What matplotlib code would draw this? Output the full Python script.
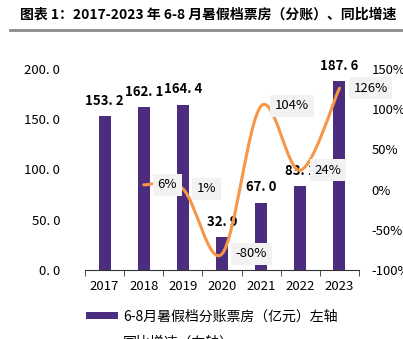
import numpy as np
import matplotlib
matplotlib.use("Agg")
import matplotlib.pyplot as plt
from matplotlib.path import Path
from matplotlib.patches import PathPatch, Patch
from matplotlib.lines import Line2D

plt.rcParams['font.family'] = ['Noto Sans CJK SC', 'DejaVu Sans']

# ---- data ----
years = ["2017", "2018", "2019", "2020", "2021", "2022", "2023"]
box_office = [153.2, 162.1, 164.4, 32.9, 67.0, 83.1, 187.6]   # 亿元
growth_years = ["2018", "2019", "2020", "2021", "2022", "2023"]
growth = [6, 1, -80, 104, 24, 126]                              # %

title = "图表 1：2017-2023 年 6-8 月暑假档票房（分账）、同比增速"
bar_label = "6-8月暑假档分账票房（亿元）左轴"
line_label = "同比增速（右轴）"

purple = "#4B2C7F"
orange = "#F79646"

fig = plt.figure(figsize=(4.03, 3.39), dpi=100)
ax = fig.add_axes([85 / 403, 69 / 339, 274 / 403, 201 / 339])
ax2 = ax.twinx()

x = np.arange(len(years))
ax.bar(x, box_office, width=0.31, color=purple, zorder=2)
ax.set_xlim(-0.5, len(years) - 0.5)
ax.set_ylim(0, 200)
ax.set_yticks([0, 50, 100, 150, 200])
ax.set_yticklabels([f"{v:.1f}".replace(".", ". ") for v in [0, 50, 100, 150, 200]])
ax.set_xticks(x)
ax.set_xticklabels(years)
ax.set_xticks(np.arange(-0.5, len(years)), minor=True)
ax.tick_params(axis="x", which="major", length=0, pad=7, labelsize=9.5)
ax.tick_params(axis="x", which="minor", length=4, direction="out", color="#333333")
ax.tick_params(axis="y", length=0, pad=18, labelsize=9.5)
for s in ["top", "left", "right"]:
    ax.spines[s].set_visible(False)
ax.spines["bottom"].set_color("#333333")

for xi, v in zip(x, box_office):
    ax.annotate(f"{v:.1f}".replace(".", ". "), (xi, v), xytext=(0, 6),
                textcoords="offset points", ha="center", va="bottom",
                fontsize=9.5, fontweight="bold", zorder=3)

# ---- growth line, smoothed like the spreadsheet chart (Catmull-Rom as Bezier) ----
gx = np.array([years.index(y) for y in growth_years], dtype=float)
gy = np.array(growth, dtype=float)
pts = np.column_stack([gx, gy])
verts = [pts[0]]
codes = [Path.MOVETO]
n = len(pts)
for i in range(n - 1):
    p0 = pts[max(i - 1, 0)]
    p1 = pts[i]
    p2 = pts[i + 1]
    p3 = pts[min(i + 2, n - 1)]
    c1 = p1 + (p2 - p0) / 6
    c2 = p2 - (p3 - p1) / 6
    verts += [c1, c2, p2]
    codes += [Path.CURVE4] * 3
ax2.add_patch(PathPatch(Path(verts, codes), facecolor="none", edgecolor=orange,
                        lw=2.2, zorder=4, capstyle="round"))
ax2.set_ylim(-100, 150)
ax2.set_yticks([-100, -50, 0, 50, 100, 150])
ax2.set_yticklabels([f"{v}%" for v in [-100, -50, 0, 50, 100, 150]])
ax2.tick_params(axis="y", length=0, pad=9, labelsize=9.5)
for s in ["top", "left", "right", "bottom"]:
    ax2.spines[s].set_visible(False)

for xi, v in zip(gx, gy):
    ax2.annotate(f"{int(v)}%", (xi, v), xytext=(10, 0), textcoords="offset points",
                 ha="left", va="center", fontsize=9.5, zorder=5,
                 bbox=dict(boxstyle="square,pad=0.35", facecolor="#F2F2F2", edgecolor="none"))

# ---- title and rule ----
fig.text(20 / 403, 1 - 15 / 339, title, fontsize=10, fontweight="bold",
         ha="left", va="center")
fig.add_artist(Line2D([10 / 403, 1.0], [1 - 30 / 339, 1 - 30 / 339],
                      color="#8C8C8C", lw=2))

# ---- legend ----
handles = [Patch(facecolor=purple, edgecolor="none"),
           Line2D([], [], color="#FAD9BC", lw=3)]
fig.legend(handles, [bar_label, line_label], loc="upper left",
           bbox_to_anchor=(80 / 403, 1 - 304 / 339), frameon=False,
           fontsize=10, handlelength=2.3, handleheight=0.45,
           labelspacing=0.85, handletextpad=0.4, borderaxespad=0)

fig.savefig("out.png", dpi=100)
